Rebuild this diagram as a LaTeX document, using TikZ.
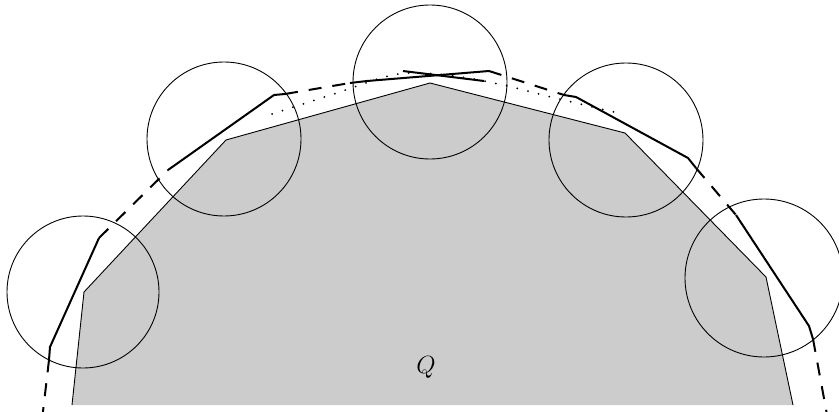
\documentclass[tikz,border=0pt]{standalone}
\usepackage{amsmath,amssymb}
\usepackage{tikz}
\usetikzlibrary{calc}

\begin{document}
\begin{tikzpicture}[x=1pt,y=-1pt,
  ball/.style={line width=0.9pt},
  setQ/.style={fill=black!20},
  edgeQ/.style={line width=0.9pt,line join=miter},
  bdry/.style={line width=2pt,dash pattern=on 13pt off 11pt},
  piece/.style={line width=2pt,line join=miter},
  aux/.style={line width=2pt,line cap=round,dash pattern=on 0pt off 11pt}]
\useasboundingbox (0,0) rectangle (839,412);
\clip (0,0) rectangle (839,412);
% the convex set Q, corners left to right
\coordinate (q0) at (72,405);
\coordinate (q1) at (84,292);
\coordinate (q2) at (226,140);
\coordinate (q3) at (430,83);
\coordinate (q4) at (625,133);
\coordinate (q5) at (766,277);
\coordinate (q6) at (793,405);
\fill[setQ] (q0)--(q1)--(q2)--(q3)--(q4)--(q5)--(q6)--cycle;
\draw[edgeQ] (q0)--(q1)--(q2)--(q3)--(q4)--(q5)--(q6);
\node (labQ) at (426,367) {\fontsize{32}{34}\selectfont$Q$};
% balls round the corners
\foreach \cx/\cy/\r in {83/292/76,224/139/77,430/82/77,626/140/77,764/278/79}{
  \draw[ball] (\cx,\cy) circle (\r pt);
}
% dotted curve near the top
\draw[aux] plot[smooth,tension=0.6] coordinates {(272,114) (337,93) (393,75) (437,74) (494,83) (551,97) (618,113)};
% outer curve: dashed between the local pieces
\draw[bdry] (42,420)--(49,360);
\draw[bdry] (99,238)--(168,170);
\draw[bdry] (285,94)--(350,83);
\draw[bdry] (489,71)--(564,95);
\draw[bdry] (696,168)--(736,215);
\draw[bdry] (813,339)--(828,420);
% local pieces inside the balls
\draw[piece] (49,360)--(50,347)--(99,238);
\draw[piece] (168,170)--(274,95)--(285,94);
\draw[piece] (350,83)--(367,81)--(489,71);
\draw[piece] (403,71)--(484,81);
\draw[piece] (564,95)--(576,97)--(688,158)--(696,168);
\draw[piece] (736,215)--(809,326)--(813,339);
\end{tikzpicture}
\end{document}
